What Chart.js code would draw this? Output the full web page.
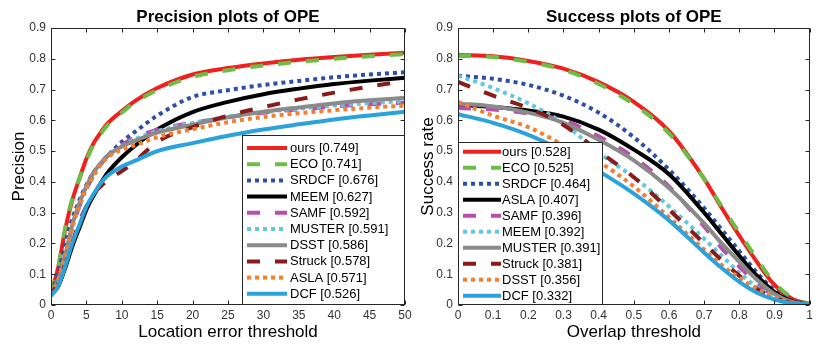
<!DOCTYPE html>
<html>
<head>
<meta charset="utf-8">
<script src="https://cdn.jsdelivr.net/npm/chart.js@4.4.1/dist/chart.umd.min.js"></script>
<style>
  html, body { margin: 0; padding: 0; background: #fff; }
  body { width: 816px; height: 344px; position: relative; overflow: hidden; }
  canvas { position: absolute; top: 0; }
  #precision { left: 0; }
  #success { left: 406px; }
</style>
</head>
<body>
<canvas id="precision" width="420" height="344"></canvas>
<canvas id="success" width="410" height="344"></canvas>
<script>
// ---- Precision plot data (location error threshold in pixels) ----
const precThresholds = [0, 1, 2, 3, 4, 5, 6, 7, 8, 10, 12, 15, 20, 25, 30, 35, 40, 45, 50];
const precNames  = ['ours', 'ECO', 'SRDCF', 'MEEM', 'SAMF', 'MUSTER', 'DSST', 'Struck', 'ASLA', 'DCF'];
const precScores = [0.749, 0.741, 0.676, 0.627, 0.592, 0.591, 0.586, 0.578, 0.571, 0.526];
const precOurs   = [0.04, 0.12, 0.245, 0.34, 0.41, 0.475, 0.525, 0.56, 0.59, 0.63, 0.665, 0.705, 0.749, 0.77, 0.785, 0.797, 0.806, 0.813, 0.82];
const precECO    = [0.04, 0.12, 0.25, 0.345, 0.41, 0.47, 0.52, 0.555, 0.585, 0.625, 0.66, 0.698, 0.741, 0.763, 0.778, 0.79, 0.8, 0.808, 0.815];
const precSRDCF  = [0.04, 0.1, 0.2, 0.28, 0.34, 0.39, 0.43, 0.46, 0.485, 0.53, 0.565, 0.615, 0.676, 0.698, 0.715, 0.728, 0.74, 0.749, 0.756];
const precMEEM   = [0.035, 0.06, 0.12, 0.19, 0.25, 0.31, 0.355, 0.395, 0.43, 0.48, 0.52, 0.57, 0.627, 0.66, 0.685, 0.703, 0.718, 0.729, 0.738];
const precSAMF   = [0.035, 0.08, 0.16, 0.25, 0.32, 0.375, 0.42, 0.455, 0.485, 0.52, 0.545, 0.57, 0.592, 0.61, 0.625, 0.636, 0.645, 0.652, 0.658];
const precMUSTER = [0.035, 0.08, 0.16, 0.25, 0.32, 0.375, 0.42, 0.455, 0.48, 0.515, 0.54, 0.565, 0.591, 0.612, 0.627, 0.638, 0.648, 0.656, 0.662];
const precDSST   = [0.035, 0.08, 0.16, 0.26, 0.33, 0.385, 0.43, 0.46, 0.485, 0.515, 0.535, 0.56, 0.586, 0.61, 0.628, 0.642, 0.655, 0.665, 0.673];
const precStruck = [0.035, 0.07, 0.13, 0.2, 0.27, 0.32, 0.36, 0.385, 0.405, 0.435, 0.47, 0.53, 0.578, 0.615, 0.643, 0.668, 0.69, 0.71, 0.728];
const precASLA   = [0.035, 0.08, 0.16, 0.255, 0.325, 0.38, 0.42, 0.455, 0.48, 0.505, 0.52, 0.545, 0.571, 0.594, 0.611, 0.623, 0.633, 0.641, 0.648];
const precDCF    = [0.03, 0.06, 0.125, 0.2, 0.26, 0.32, 0.36, 0.395, 0.42, 0.45, 0.47, 0.5, 0.526, 0.55, 0.57, 0.587, 0.603, 0.616, 0.628];

// ---- Success plot data (overlap threshold) ----
const succThresholds = [0, 0.1, 0.2, 0.3, 0.4, 0.5, 0.6, 0.7, 0.75, 0.8, 0.85, 0.9, 0.95, 1];
const succNames  = ['ours', 'ECO', 'SRDCF', 'ASLA', 'SAMF', 'MEEM', 'MUSTER', 'Struck', 'DSST', 'DCF'];
const succScores = [0.528, 0.525, 0.464, 0.407, 0.396, 0.392, 0.391, 0.381, 0.356, 0.332];
const succOurs   = [0.812, 0.808, 0.793, 0.768, 0.724, 0.66, 0.565, 0.41, 0.315, 0.225, 0.14, 0.065, 0.02, 0.003];
const succECO    = [0.81, 0.806, 0.79, 0.764, 0.718, 0.652, 0.558, 0.41, 0.32, 0.235, 0.15, 0.072, 0.024, 0.003];
const succSRDCF  = [0.745, 0.735, 0.715, 0.68, 0.625, 0.545, 0.44, 0.315, 0.245, 0.175, 0.105, 0.048, 0.014, 0.002];
const succASLA   = [0.65, 0.643, 0.632, 0.612, 0.57, 0.505, 0.425, 0.3, 0.23, 0.16, 0.095, 0.042, 0.012, 0.001];
const succSAMF   = [0.64, 0.635, 0.622, 0.6, 0.548, 0.48, 0.385, 0.255, 0.185, 0.125, 0.07, 0.03, 0.008, 0.001];
const succMEEM   = [0.745, 0.705, 0.655, 0.59, 0.495, 0.415, 0.32, 0.215, 0.16, 0.105, 0.058, 0.026, 0.008, 0.001];
const succMUSTER = [0.655, 0.645, 0.625, 0.592, 0.537, 0.47, 0.38, 0.265, 0.2, 0.14, 0.082, 0.036, 0.01, 0.001];
const succStruck = [0.725, 0.68, 0.64, 0.585, 0.5, 0.415, 0.31, 0.2, 0.145, 0.095, 0.052, 0.023, 0.007, 0.001];
const succDSST   = [0.66, 0.615, 0.578, 0.52, 0.465, 0.385, 0.285, 0.18, 0.13, 0.088, 0.052, 0.026, 0.008, 0.001];
const succDCF    = [0.62, 0.592, 0.553, 0.5, 0.435, 0.362, 0.275, 0.17, 0.12, 0.075, 0.04, 0.018, 0.006, 0.002];

// ---- Axis ticks ----
const yTicks        = [0, 0.1, 0.2, 0.3, 0.4, 0.5, 0.6, 0.7, 0.8, 0.9];
const yTickLabels   = ['0', '0.1', '0.2', '0.3', '0.4', '0.5', '0.6', '0.7', '0.8', '0.9'];
const precXTicks    = [0, 5, 10, 15, 20, 25, 30, 35, 40, 45, 50];
const precXLabels   = ['0', '5', '10', '15', '20', '25', '30', '35', '40', '45', '50'];
const succXTicks    = [0, 0.1, 0.2, 0.3, 0.4, 0.5, 0.6, 0.7, 0.8, 0.9, 1];
const succXLabels   = ['0', '0.1', '0.2', '0.3', '0.4', '0.5', '0.6', '0.7', '0.8', '0.9', '1'];

// Line style for each rank slot (same look in both plots)
const slotStyles = [
  { color: '#f0201e', dash: [] },
  { color: '#6cbd45', dash: [13, 15] },
  { color: '#2d4fa6', dash: [4, 4] },
  { color: '#000000', dash: [] },
  { color: '#b94fab', dash: [13, 15] },
  { color: '#62c8e0', dash: [4, 4] },
  { color: '#8a8a8a', dash: [] },
  { color: '#8b1a1a', dash: [13, 15] },
  { color: '#f47f30', dash: [4, 4] },
  { color: '#2aa2dc', dash: [] }
];

const FONT = '"Liberation Sans", Arial, Helvetica, sans-serif';
Chart.defaults.font.family = FONT;

// Boxed axes with inward ticks on all four sides, plus an in-axes legend
const matlabFrame = {
  id: 'matlabFrame',
  afterDatasetsDraw(chart, args, opts) {
    const { ctx, chartArea: a, scales: { x, y } } = chart;
    const L = Math.round(a.left) + 0.5, R = Math.round(a.right) - 0.5;
    const T = Math.round(a.top) + 0.5, B = Math.round(a.bottom) - 0.5;
    ctx.save();
    ctx.strokeStyle = '#262626';
    ctx.lineWidth = 1;
    ctx.setLineDash([]);
    ctx.beginPath();
    const tl = 4;
    x.ticks.forEach(t => {
      const px = Math.round(x.getPixelForValue(t.value)) + 0.5;
      ctx.moveTo(px, B); ctx.lineTo(px, B - tl);
      ctx.moveTo(px, T); ctx.lineTo(px, T + tl);
    });
    y.ticks.forEach(t => {
      const py = Math.round(y.getPixelForValue(t.value)) + 0.5;
      ctx.moveTo(L, py); ctx.lineTo(L + tl, py);
      ctx.moveTo(R, py); ctx.lineTo(R - tl, py);
    });
    ctx.stroke();
    ctx.strokeRect(L, T, R - L, B - T);

    // legend
    const lg = opts;
    const bx = lg.anchor === 'right' ? a.right - lg.w : a.left;
    const by = a.bottom - lg.h;
    ctx.fillStyle = '#fff';
    ctx.fillRect(bx, by, lg.w, lg.h);
    ctx.strokeStyle = '#262626';
    ctx.lineWidth = 1;
    ctx.strokeRect(Math.round(bx) + 0.5, Math.round(by) + 0.5, lg.w - 1, lg.h - 1);
    ctx.font = '13px ' + FONT;
    ctx.textBaseline = 'middle';
    ctx.textAlign = 'left';
    chart.data.datasets.forEach((ds, i) => {
      const cy = by + lg.rowTop + i * lg.rowStep;
      ctx.beginPath();
      ctx.strokeStyle = ds.borderColor;
      ctx.lineWidth = ds.borderWidth;
      ctx.lineCap = 'butt';
      ctx.setLineDash(ds.borderDash || []);
      ctx.moveTo(bx + lg.swatchX, cy);
      ctx.lineTo(bx + lg.swatchX + lg.swatchW, cy);
      ctx.stroke();
      ctx.setLineDash([]);
      ctx.fillStyle = '#000';
      ctx.fillText(ds.label, bx + lg.textX, cy + 0.5);
    });
    ctx.restore();
  }
};

function makeChart(id, cfg) {
  const datasets = cfg.series.map((vals, i) => ({
    label: cfg.names[i] + ' [' + cfg.scores[i].toFixed(3) + ']',
    data: cfg.x.map((xv, j) => ({ x: xv, y: vals[j] })),
    borderColor: slotStyles[i].color,
    borderDash: slotStyles[i].dash,
    borderWidth: 4,
    borderCapStyle: 'butt',
    pointRadius: 0,
    fill: false,
    cubicInterpolationMode: 'monotone',
    order: -i
  }));
  return new Chart(document.getElementById(id), {
    type: 'line',
    data: { datasets },
    plugins: [matlabFrame],
    options: {
      responsive: false,
      animation: false,
      events: [],
      layout: { padding: { left: 0, right: cfg.padRight, top: 0, bottom: 0 } },
      plugins: {
        legend: { display: false },
        tooltip: { enabled: false },
        title: {
          display: true, text: cfg.title, fullSize: false, color: '#000',
          font: { size: 17, weight: 'bold', lineHeight: '20px' },
          padding: { top: 7, bottom: 1 }
        },
        matlabFrame: cfg.legend
      },
      scales: {
        x: {
          type: 'linear', min: cfg.xTicks[0], max: cfg.xTicks[cfg.xTicks.length - 1],
          afterBuildTicks: s => { s.ticks = cfg.xTicks.map(v => ({ value: v })); },
          afterFit: s => { s.height = 39; },
          ticks: { callback: (v, i) => cfg.xLabels[i], font: { size: 12 }, color: '#333', padding: 3, maxRotation: 0, autoSkip: false },
          grid: { display: false, drawTicks: false },
          border: { display: false },
          title: { display: true, text: cfg.xTitle, color: '#000', font: { size: 17 }, padding: { top: 0, bottom: 1.3 } }
        },
        y: {
          type: 'linear', min: 0, max: 0.9,
          afterBuildTicks: s => { s.ticks = yTicks.map(v => ({ value: v })); },
          afterFit: s => { s.width = cfg.yWidth; },
          ticks: { callback: (v, i) => yTickLabels[i], font: { size: 12 }, color: '#333', padding: 5, autoSkip: false },
          grid: { display: false, drawTicks: false },
          border: { display: false },
          title: { display: true, text: cfg.yTitle, color: '#000', font: { size: 17 }, padding: { top: cfg.yTitlePad, bottom: 0 } }
        }
      }
    }
  });
}

makeChart('precision', {
  title: 'Precision plots of OPE',
  xTitle: 'Location error threshold',
  yTitle: 'Precision',
  x: precThresholds,
  names: precNames,
  scores: precScores,
  series: [precOurs, precECO, precSRDCF, precMEEM, precSAMF, precMUSTER, precDSST, precStruck, precASLA, precDCF],
  xTicks: precXTicks,
  xLabels: precXLabels,
  yWidth: 51,
  yTitlePad: 9.3,
  padRight: 15,
  legend: { anchor: 'right', w: 163, h: 170, rowTop: 13, rowStep: 16.2, swatchX: 5, swatchW: 40, textX: 48 }
});

makeChart('success', {
  title: 'Success plots of OPE',
  xTitle: 'Overlap threshold',
  yTitle: 'Success rate',
  x: succThresholds,
  names: succNames,
  scores: succScores,
  series: [succOurs, succECO, succSRDCF, succASLA, succSAMF, succMEEM, succMUSTER, succStruck, succDSST, succDCF],
  xTicks: succXTicks,
  xLabels: succXLabels,
  yWidth: 52,
  yTitlePad: 12.3,
  padRight: 5,
  legend: { anchor: 'left', w: 145, h: 163, rowTop: 9.7, rowStep: 16, swatchX: 5, swatchW: 38, textX: 44 }
});
</script>
</body>
</html>
